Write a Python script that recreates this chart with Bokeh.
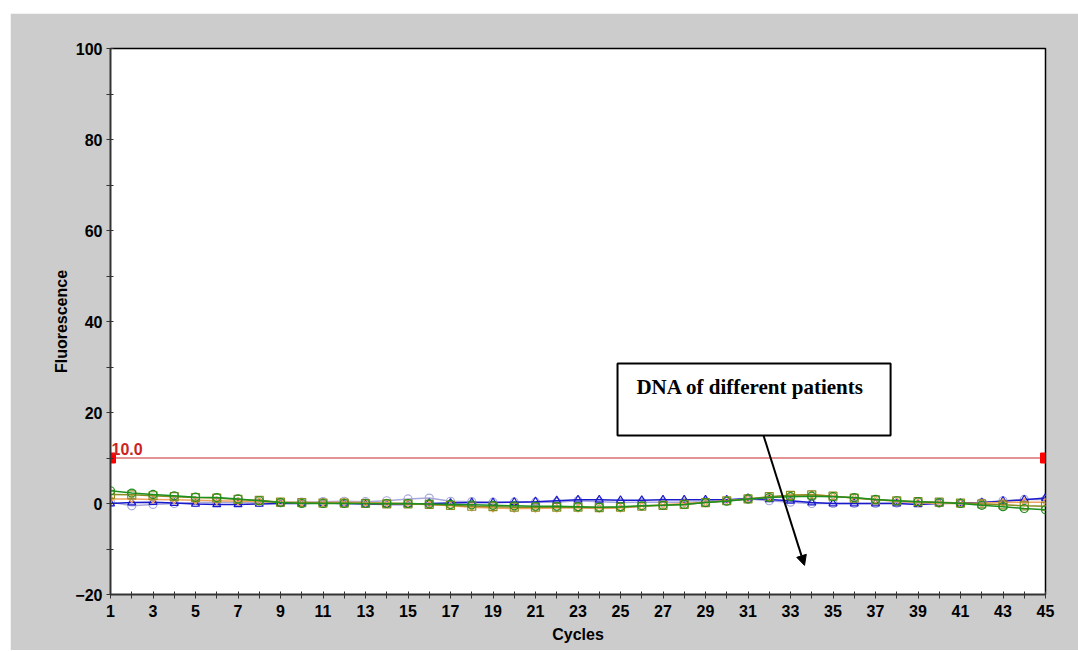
from bokeh.plotting import figure
from bokeh.models import (FixedTicker, Label, BoxAnnotation, Arrow, NormalHead,
                          Range1d, Spacer, ColumnDataSource)
from bokeh.layouts import column, row
from bokeh.embed import file_html
from bokeh.resources import INLINE

cycles = list(range(1, 46))

green = [2.8, 2.3, 2.0, 1.7, 1.4, 1.3, 1.0, 0.6, 0.2, 0.0, 0.0, 0.0, 0.0, 0.0, 0.0,
         -0.1, -0.2, -0.3, -0.4, -0.5, -0.6, -0.6, -0.7, -0.8, -0.7, -0.5, -0.4, -0.2,
         0.2, 0.5, 1.0, 1.3, 1.5, 1.6, 1.5, 1.3, 0.9, 0.6, 0.4, 0.2, 0.0, -0.4, -0.7,
         -1.1, -1.4]
olive = [2.0, 1.9, 1.7, 1.5, 1.3, 1.2, 0.9, 0.7, 0.3, 0.2, 0.1, 0.1, 0.0, -0.1, -0.1,
         -0.2, -0.4, -0.6, -0.7, -0.8, -0.8, -0.8, -0.8, -0.9, -0.8, -0.6, -0.4, -0.2,
         0.2, 0.6, 1.0, 1.5, 1.8, 1.9, 1.6, 1.2, 0.8, 0.6, 0.4, 0.3, 0.1, -0.1, -0.3,
         -0.5, -0.6]
orange = [1.0, 1.0, 0.9, 0.8, 0.7, 0.6, 0.5, 0.4, 0.3, 0.2, 0.2, 0.3, 0.2, 0.1, 0.0,
          -0.2, -0.5, -0.8, -1.0, -1.1, -1.1, -1.0, -1.0, -1.1, -1.0, -0.6, -0.3, 0.0,
          0.3, 0.6, 1.0, 1.4, 1.8, 2.0, 1.6, 1.2, 0.8, 0.5, 0.2, 0.0, 0.0, 0.1, 0.2,
          0.3, 0.3]
blue = [0.0, 0.2, 0.3, 0.1, -0.1, -0.2, -0.2, -0.1, 0.0, 0.0, 0.1, 0.0, -0.1, -0.2,
        -0.2, 0.0, 0.1, 0.2, 0.2, 0.3, 0.4, 0.6, 0.8, 0.8, 0.7, 0.7, 0.8, 0.8, 0.8, 0.8,
        1.1, 0.9, 0.6, 0.2, 0.0, 0.0, 0.0, 0.0, -0.2, 0.0, 0.1, 0.2, 0.5, 0.8, 1.2]
lavender = [0.3, -0.5, -0.2, 0.0, 0.2, 0.3, 0.3, 0.2, 0.2, 0.3, 0.4, 0.5, 0.4, 0.6,
            1.0, 1.2, 0.5, 0.4, 0.3, 0.3, 0.3, 0.3, 0.6, 0.4, 0.2, 0.3, 0.3, 0.3, 0.4,
            0.6, 1.0, 0.6, 0.3, 0.0, 0.0, 0.0, 0.0, 0.1, 0.3, 0.1, 0.0, 0.2, 0.6, 0.9, 0.9]

threshold_value = 10.0
threshold_x = [1, 45]
threshold_label = "10.0"
annotation_text = "DNA of different patients"

x_tick_labels = list(range(1, 46, 2))
x_minor = list(range(2, 45, 2))
y_ticks = [-20, 0, 20, 40, 60, 80, 100]
y_minor = [-10, 10, 30, 50, 70, 90]

GRAY = "#cccccc"
FONT = "Liberation Sans"

p = figure(frame_width=935, frame_height=546, output_backend="svg",
           toolbar_location=None, x_range=Range1d(1, 45), y_range=Range1d(-20, 100),
           min_border_left=100, min_border_right=33, min_border_top=35,
           min_border_bottom=56, background_fill_color="white",
           border_fill_color=GRAY)
p.outline_line_color = "black"
p.outline_line_width = 1.5
p.xgrid.visible = False
p.ygrid.visible = False

p.xaxis.ticker = FixedTicker(ticks=x_tick_labels, minor_ticks=x_minor)
p.yaxis.ticker = FixedTicker(ticks=y_ticks, minor_ticks=y_minor)
for ax in (p.xaxis, p.yaxis):
    ax.axis_line_color = "#333333"
    ax.axis_line_width = 1.5
    ax.major_tick_line_color = "#333333"
    ax.minor_tick_line_color = "#333333"
    ax.major_tick_in = 3
    ax.major_tick_out = 4
    ax.minor_tick_in = 3
    ax.minor_tick_out = 4
    ax.major_label_text_font = FONT
    ax.major_label_text_font_style = "bold"
    ax.major_label_text_font_size = "16px"
    ax.major_label_text_color = "black"
    ax.axis_label_text_font = FONT
    ax.axis_label_text_font_style = "bold"
    ax.axis_label_text_font_size = "16px"
    ax.axis_label_text_color = "black"

p.xaxis.axis_label = "Cycles"
p.yaxis.axis_label = "Fluorescence"
p.xaxis.major_label_standoff = 6
p.xaxis.axis_label_standoff = 6
p.yaxis.major_label_standoff = 4
p.yaxis.axis_label_standoff = 2

# threshold
p.line(threshold_x, [threshold_value] * 2, line_color="#d87070", line_width=1.5)
p.scatter(threshold_x, [threshold_value] * 2, marker="square", size=10,
          color="#ff0000")
p.add_layout(Label(x=threshold_x[0], y=threshold_value, text=threshold_label,
                   x_offset=1, y_offset=3, text_color="#cc2222",
                   text_font=FONT, text_font_style="bold", text_font_size="16px"))

series = [
    (lavender, "#a8a8dc", "circle"),
    (blue, "#1a1acc", "triangle"),
    (orange, "#f2a35e", "diamond"),
    (olive, "#8a8a20", "square"),
    (green, "#1f8f1f", "circle"),
]
for vals, col, mk in series:
    src = ColumnDataSource(dict(x=cycles, y=vals))
    p.line("x", "y", source=src, line_color=col, line_width=1.5)
    p.scatter("x", "y", source=src, marker=mk, size=8, line_color=col,
              fill_alpha=0, line_width=1.2)

# annotation box
p.add_layout(BoxAnnotation(left=24.86, right=37.71, bottom=14.95, top=30.77,
                           fill_color="white", fill_alpha=1.0,
                           line_color="black", line_alpha=1.0, line_width=2,
                           level="overlay"))
p.add_layout(Label(x=25.75, y=25.7, text=annotation_text,
                   text_font="Liberation Serif", text_font_style="bold",
                   text_font_size="21px", text_color="black",
                   text_baseline="middle", level="overlay"))
p.add_layout(Arrow(x_start=31.73, y_start=14.95, x_end=33.66, y_end=-13.6,
                   line_color="black", line_width=2,
                   end=NormalHead(size=10, fill_color="black", line_color="black")))

layout = column(Spacer(height=13), row(Spacer(width=10), p, spacing=0), spacing=0)
open("out.html", "w").write(file_html(layout, INLINE))
